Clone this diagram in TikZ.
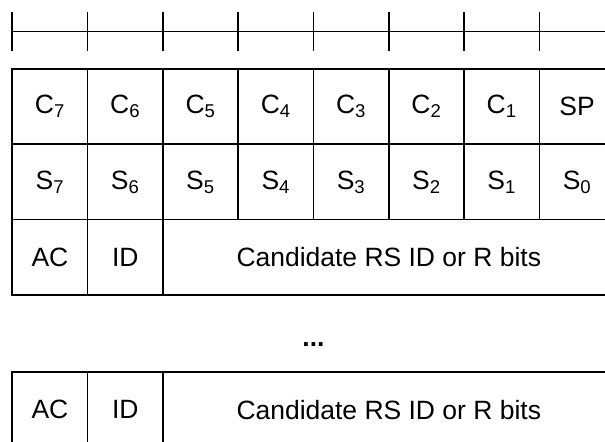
\documentclass[tikz,border=0pt]{standalone}
\usepackage{fontspec}
\setsansfont{Liberation Sans}
\usepackage{tikz}
\usetikzlibrary{positioning}

\begin{document}
\begin{tikzpicture}[x=2cm,y=2cm,font=\sffamily\fontsize{20pt}{24pt}\selectfont,
  rule/.style={line width=1.2pt},
  cell/.style={draw,line width=1.2pt,minimum width=2cm,minimum height=2cm,inner sep=0pt}]
\clip (-0.163,0) rectangle (7.871,-5.857);
% ruler
\coordinate (rl) at (0,-0.421);
\coordinate (rr) at (8,-0.421);
\draw[rule] (rl)--(rr);
\foreach \i in {0,...,7} {\draw[rule] (\i,-0.155)--(\i,-0.673);}
% first block
\foreach \n [count=\i from 0] in {7,...,1} {\node[cell] (c\n) at (\i+0.5,-1.416) {C\textsubscript{\n}};}
\node[cell] (sp) at (7.5,-1.416) {SP};
\foreach \n [count=\i from 0] in {7,...,0} {\node[cell] (s\n) at (\i+0.5,-2.416) {S\textsubscript{\n}};}
\node[cell] (acA) at (0.5,-3.416) {AC};
\node[cell] (idA) at (1.5,-3.416) {ID};
\node[cell,minimum width=12cm] (candA) at (5,-3.416) {Candidate RS ID or R bits};
\node[font=\sffamily\bfseries\fontsize{20pt}{24pt}\selectfont] (dots) at (4,-4.58) {...};
% last block
\node[cell] (acB) at (0.5,-5.44) {AC};
\node[cell] (idB) at (1.5,-5.44) {ID};
\node[cell,minimum width=12cm] (candB) at (5,-5.44) {Candidate RS ID or R bits};
\end{tikzpicture}
\end{document}
